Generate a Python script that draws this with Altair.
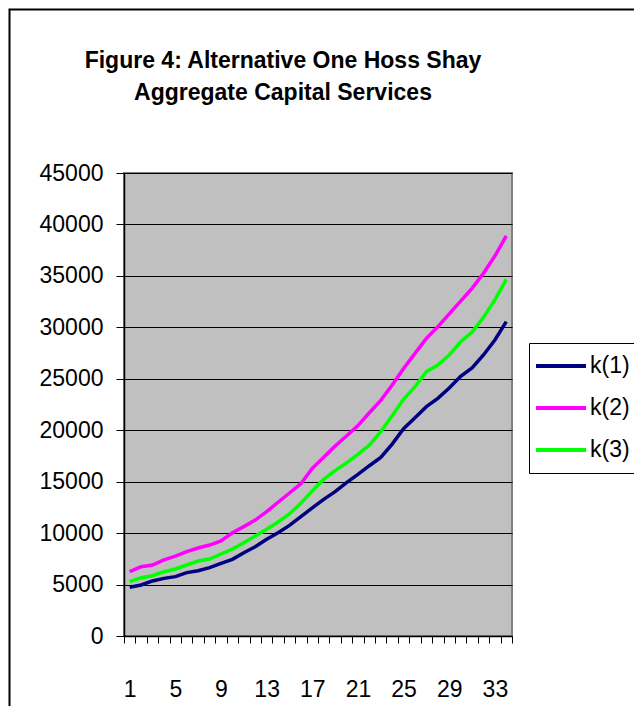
import altair as alt
import pandas as pd

periods = list(range(1, 35))
k1 = [4730, 4960, 5350, 5600, 5770, 6160, 6350, 6640, 7060, 7450,
      8100, 8680, 9400, 10040, 10750, 11600, 12450, 13280, 14030, 14900,
      15700, 16550, 17350, 18650, 20150, 21220, 22290, 23100, 24100, 25250,
      26050, 27310, 28770, 30550]
k2 = [6250, 6740, 6900, 7390, 7770, 8200, 8550, 8840, 9250, 10040,
      10630, 11270, 12080, 13000, 13900, 14800, 16300, 17370, 18470, 19440,
      20450, 21700, 22900, 24400, 26000, 27470, 28930, 30060, 31300, 32550,
      33790, 35250, 36930, 38880]
k3 = [5280, 5670, 5860, 6250, 6510, 6900, 7290, 7480, 7970, 8450,
      9070, 9720, 10370, 11080, 11860, 12900, 14100, 15230, 16070, 16820,
      17650, 18550, 19850, 21400, 23000, 24230, 25690, 26340, 27310, 28600,
      29530, 30970, 32660, 34670]
series_names = ["k(1)", "k(2)", "k(3)"]
series_colors = ["#000080", "#FF00FF", "#00FF00"]
y_ticks = [0, 5000, 10000, 15000, 20000, 25000, 30000, 35000, 40000, 45000]
title_lines = ["Figure 4: Alternative One Hoss Shay", "Aggregate Capital Services"]

FONT = "Liberation Sans"

df = pd.DataFrame({
    "period": periods * 3,
    "value": k1 + k2 + k3,
    "series": [n for n in series_names for _ in periods],
})

lines = alt.Chart(df).mark_line(strokeWidth=3.5).encode(
    x=alt.X(
        "period:O",
        scale=alt.Scale(type="band", paddingInner=0, paddingOuter=0),
        axis=alt.Axis(
            title=None,
            tickBand="extent",
            labelExpr="(datum.value - 1) % 4 == 0 ? datum.label : ''",
            labelAngle=0,
            labelOverlap=False,
            labelFont=FONT,
            labelFontSize=23,
            labelColor="black",
            labelPadding=35,
            tickSize=7,
            tickColor="black",
            domainColor="black",
            domainWidth=1.5,
            grid=False,
        ),
    ),
    y=alt.Y(
        "value:Q",
        scale=alt.Scale(domain=[0, 45000], nice=False),
        axis=alt.Axis(
            title=None,
            values=y_ticks,
            format="d",
            labelFont=FONT,
            labelFontSize=23,
            labelColor="black",
            labelPadding=13,
            tickSize=8,
            tickColor="black",
            domainColor="black",
            domainWidth=1.5,
            grid=True,
            gridColor="black",
            gridWidth=1,
            gridOpacity=1,
        ),
    ),
    color=alt.Color(
        "series:N",
        scale=alt.Scale(domain=series_names, range=series_colors),
        legend=alt.Legend(
            title=None,
            orient="none",
            legendX=405,
            legendY=170,
            symbolType="M-2.5,0H2.5",
            symbolSize=400,
            symbolStrokeWidth=4,
            symbolOffset=9,
            symbolFillColor="transparent",
            labelFont=FONT,
            labelFontSize=23,
            labelColor="black",
            labelOffset=17,
            rowPadding=18,
            padding=11,
            strokeColor="black",
            fillColor="white",
        ),
    ),
    order=alt.Order("period:Q"),
)

border = alt.Chart(pd.DataFrame({"d": [0]})).mark_rect(
    filled=False, stroke="black", strokeWidth=2, clip=False
).encode(
    x=alt.value(-114.5), x2=alt.value(530), y=alt.value(-163.5), y2=alt.value(560)
)

chart = alt.layer(border, lines).properties(
    width=388,
    height=463,
    background="white",
    autosize=alt.AutoSizeParams(type="none"),
    padding={"left": 116, "top": 165, "right": 122, "bottom": 70},
    title=alt.TitleParams(
        text=title_lines,
        font=FONT,
        fontSize=23,
        fontWeight="bold",
        lineHeight=32,
        anchor="middle",
        dx=-35,
        offset=-96,
        color="black",
    ),
).configure_view(
    fill="#C0C0C0", stroke="#808080", strokeWidth=2
)

chart.save("out.html", embed_options={"renderer": "svg", "actions": False})
